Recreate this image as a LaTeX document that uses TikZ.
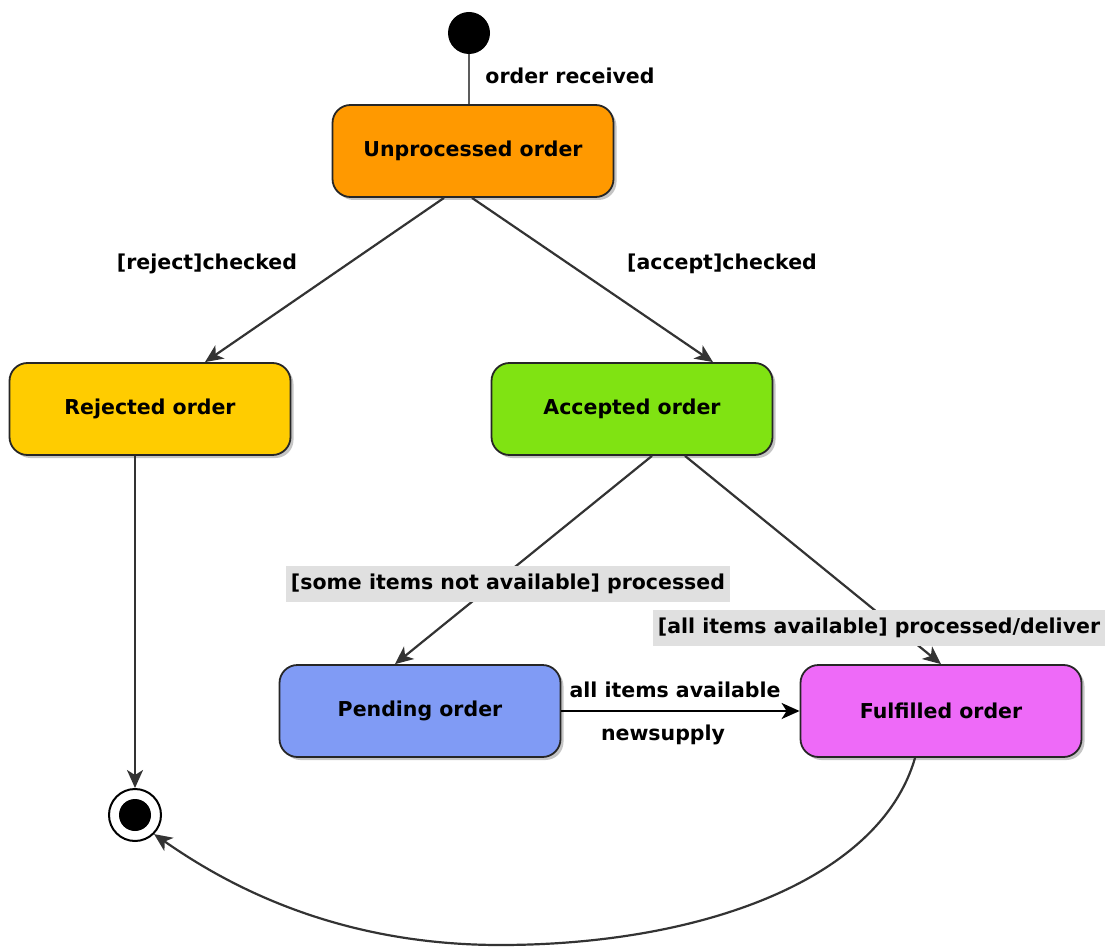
\documentclass[tikz,border=0pt]{standalone}
\usepackage{fontspec}
\setmainfont{DejaVu Sans}
\usetikzlibrary{arrows.meta,shadows,calc}
\definecolor{cunproc}{HTML}{FF9900}
\definecolor{crej}{HTML}{FFCC00}
\definecolor{cacc}{HTML}{80E312}
\definecolor{cpend}{HTML}{809BF5}
\definecolor{cful}{HTML}{EE6AF8}
\definecolor{clabel}{HTML}{E0E0E0}
\definecolor{cline}{HTML}{333333}
\tikzset{
  statebox/.style={draw=black!85, line width=1.8pt, rounded corners=18pt,
    minimum width=281pt, minimum height=92pt, inner sep=0pt,
    font=\fontsize{20.5}{24}\selectfont\bfseries,
    drop shadow={shadow xshift=3pt, shadow yshift=-3pt, fill=black!45}},
  conn/.style={draw=cline, line width=2.2pt, -{Stealth[length=18pt,width=16pt,inset=5pt]}},
  lbl/.style={font=\fontsize{20.5}{24}\selectfont\bfseries, inner sep=2pt},
  glbl/.style={lbl, fill=clabel, inner sep=5pt, minimum height=36pt}
}
\begin{document}
\begin{tikzpicture}[x=1pt,y=-1pt]
\useasboundingbox (0,0) rectangle (1113,949);
% states
\node[circle, fill=black, minimum size=42pt, inner sep=0pt] (init) at (469,33) {};
\node[statebox, fill=cunproc] (unproc) at (473,151) {Unprocessed order};
\node[statebox, fill=crej] (rej) at (150,409) {Rejected order};
\node[statebox, fill=cacc] (acc) at (632,409) {Accepted order};
\node[statebox, fill=cpend] (pend) at (420,711) {Pending order};
\node[statebox, fill=cful] (ful) at (941,711) {Fulfilled order};
\node[circle, draw=black, line width=2pt, fill=white, minimum size=52pt, inner sep=0pt] (final) at (135,815) {};
\node[circle, fill=black, minimum size=32pt, inner sep=0pt] (finalin) at (final.center) {};
% connectors
\draw[draw=cline!80, line width=2.2pt] (init.south) -- (init |- unproc.north);
\draw[conn] ([xshift=-29pt]unproc.south) -- ([xshift=55pt]rej.north);
\draw[conn] ([xshift=-1pt]unproc.south) -- ([xshift=81pt]acc.north);
\draw[conn] ([xshift=20pt]acc.south) -- ([xshift=-25pt]pend.north);
\draw[conn] ([xshift=53pt]acc.south) -- (ful.north);
\draw[conn, draw=black] (pend.east) -- (ful.west);
\draw[conn] (final |- rej.south) -- (final.north);
\draw[conn] ([xshift=-26pt]ful.south) .. controls (880,880) and (700,945) .. (500,945)
  coordinate (bottom) .. controls (330,945) and (220,880) .. (final.south east);
% labels
\node[lbl] (lrecv) at (570,76) {order received};
\node[lbl] (lrej) at (207,264) {[reject]checked};
\node[lbl] (lacc) at (722,264) {[accept]checked};
\node[glbl] (lsome) at (508,584) {[some items not available] processed};
\node[glbl] (lall) at (879,628) {[all items available] processed/deliver};
\node[lbl] (lavail) at (675,690) {all items available};
\node[lbl] (lnew) at (663,735) {newsupply};
\end{tikzpicture}
\end{document}
